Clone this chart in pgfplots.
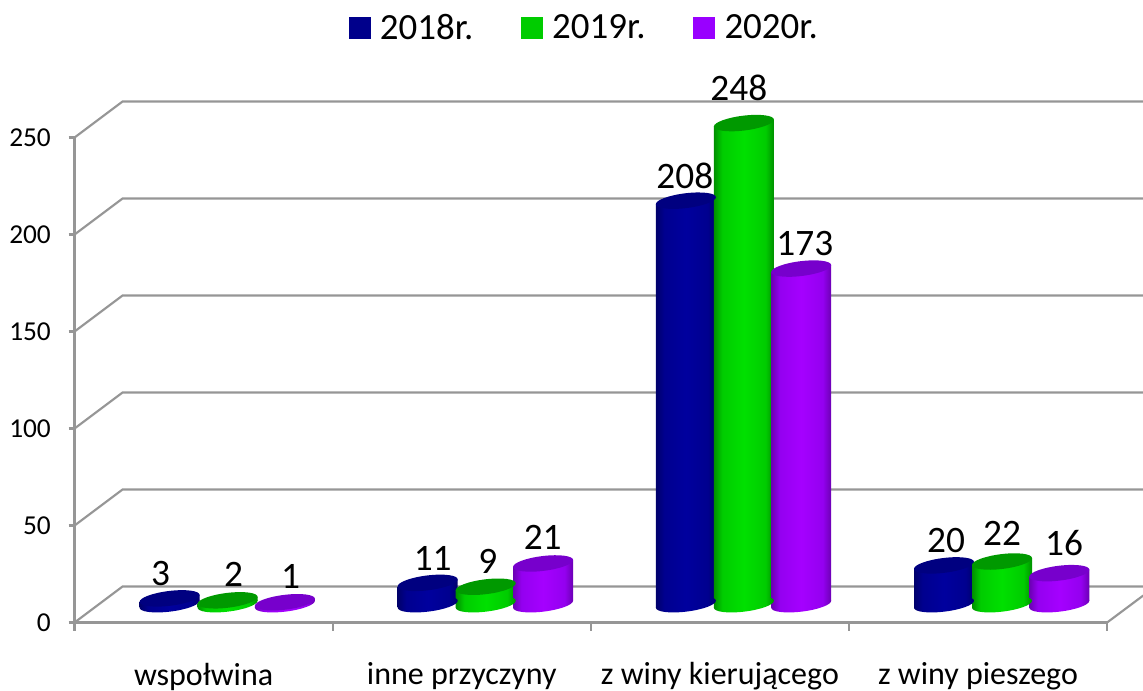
\documentclass[border=0pt]{standalone}
\usepackage{pgfplots}
\usepackage{fontspec}
\setmainfont{Carlito}
\pgfplotsset{compat=1.18}
\definecolor{gridc}{HTML}{969696}
\definecolor{aL}{HTML}{00008B}\definecolor{aE}{HTML}{00006B}\definecolor{aB}{HTML}{00008F}\definecolor{aM}{HTML}{00009E}\definecolor{aC}{HTML}{000080}
\definecolor{bL}{HTML}{00CC00}\definecolor{bE}{HTML}{009000}\definecolor{bB}{HTML}{00CC00}\definecolor{bM}{HTML}{00E000}\definecolor{bC}{HTML}{009900}
\definecolor{cL}{HTML}{9900FF}\definecolor{cE}{HTML}{6B00B3}\definecolor{cB}{HTML}{9400F0}\definecolor{cM}{HTML}{A500FF}\definecolor{cC}{HTML}{7700CC}
\newcommand\defmarks[1]{%
 \pgfdeclarehorizontalshading{cyl#1}{100bp}{color(0bp)=(#1E); color(25bp)=(#1E); color(32bp)=(#1B); color(50bp)=(#1M); color(68bp)=(#1B); color(75bp)=(#1E); color(100bp)=(#1E)}%
 \pgfdeclareplotmark{cap#1}{\pgfpathellipse{\pgfpointorigin}{\pgfqpoint{22.5pt}{2.6pt}}{\pgfqpoint{0pt}{5.6pt}}\pgfsetfillcolor{#1C}\pgfusepathqfill}%
 \pgfdeclareplotmark{bot#1}{\pgfpathellipse{\pgfpointorigin}{\pgfqpoint{22.5pt}{2.6pt}}{\pgfqpoint{0pt}{5.6pt}}\pgfshadepath{cyl#1}{0}\pgfusepath{discard}}%
}
\defmarks{a}\defmarks{b}\defmarks{c}
% one cylinder: x, value, series letter, shift to the right
\newcommand\cyl[4]{%
 \addplot[forget plot,only marks,mark=bot#3,xshift=#4,yshift=13.75pt] coordinates {(#1,0)};
 \addplot[forget plot,ybar,bar width=45pt,bar shift=0pt,draw=none,shade,shading=cyl#3,mark=none,xshift=#4,yshift=13.75pt,
   cm={1,0.1156,0,1,(0pt,{-0.1156*193.6*#1 pt})}] coordinates {(#1,#2)};
 \addplot[forget plot,only marks,mark=cap#3,xshift=#4,yshift=13.75pt] coordinates {(#1,#2)};
}
% one data label: x, value, offset right (px), offset up (px)
\newcommand\lbl[4]{%
 \addplot[forget plot,only marks,mark=none,
  nodes near coords={#2},
  every node near coord/.style={anchor=center,inner sep=0pt,font=\fontsize{28pt}{28pt}\selectfont,text=black,xshift={#3*0.75pt},yshift={#4*0.75pt}}]
  coordinates {(#1,#2)};
}
\begin{document}
\begin{tikzpicture}
\path[use as bounding box] (0,0) rectangle (857.25pt,517.5pt);
\begin{axis}[
 at={(55.9pt,50.6pt)},anchor=south west,
 scale only axis,width=774.4pt,height=363.75pt,
 xmin=0,xmax=4,ymin=0,ymax=250,clip=false,
 axis x line*=bottom,axis y line*=left,
 axis line style={gridc,line width=1.6pt,-},
 tick align=outside,tick style={gridc,line width=1.6pt},
 xtick={0.5,1.5,2.5,3.5},
 xticklabels={wspołwina,inne przyczyny,z winy kierującego,z winy pieszego},
 minor xtick={0,1,2,3,4},
 major x tick style={draw=none},
 minor tick length=6pt,
 major tick length=4.5pt,
 ytick={0,50,100,150,200,250},
 /pgf/number format/assume math mode=true,
 x tick label style={font=\fontsize{24pt}{24pt}\selectfont,anchor=center,inner sep=0pt,yshift=-36pt,text=black},
 y tick label style={font=\fontsize{20.5pt}{20.5pt}\selectfont,text=black,xshift=-9.75pt,yshift=-0.5pt},
 legend columns=3,
 legend cell align=left,
 legend style={at={(rel axis cs:0.494,1.2265)},anchor=center,draw=none,fill=none,
   font=\fontsize{27.7pt}{27.7pt}\selectfont,inner sep=0pt,
   /tikz/every odd column/.style={column sep=5.25pt},
   /tikz/every even column/.style={column sep=33.75pt}},
]
\addplot[forget plot,gridc,line width=1.6pt] coordinates {(0,0) (0.186,18.56) (4.14,18.56)};
\addplot[forget plot,gridc,line width=1.6pt] coordinates {(0,50) (0.186,68.56) (4.14,68.56)};
\addplot[forget plot,gridc,line width=1.6pt] coordinates {(0,100) (0.186,118.56) (4.14,118.56)};
\addplot[forget plot,gridc,line width=1.6pt] coordinates {(0,150) (0.186,168.56) (4.14,168.56)};
\addplot[forget plot,gridc,line width=1.6pt] coordinates {(0,200) (0.186,218.56) (4.14,218.56)};
\addplot[forget plot,gridc,line width=1.6pt] coordinates {(0,250) (0.186,268.56) (4.14,268.56)};
\addplot[forget plot,gridc,line width=1.6pt] coordinates {(4,0) (4.14,13.9)};
\cyl{0.5}{3}{a}{-25.5pt}\cyl{0.5}{2}{b}{18pt}\cyl{0.5}{1}{c}{61pt}
\cyl{1.5}{11}{a}{-25.5pt}\cyl{1.5}{9}{b}{18pt}\cyl{1.5}{21}{c}{61pt}
\cyl{2.5}{208}{a}{-25.5pt}\cyl{2.5}{248}{b}{18pt}\cyl{2.5}{173}{c}{61pt}
\cyl{3.5}{20}{a}{-25.5pt}\cyl{3.5}{22}{b}{18pt}\cyl{3.5}{16}{c}{61pt}
\lbl{0.5}{3}{-43}{43}\lbl{1.5}{11}{-29}{43}\lbl{2.5}{208}{-35}{43}\lbl{3.5}{20}{-32}{43}
\lbl{0.5}{2}{30}{44}\lbl{1.5}{9}{26}{44}\lbl{2.5}{248}{19}{54}\lbl{3.5}{22}{24}{46}
\lbl{0.5}{1}{87}{44}\lbl{1.5}{21}{81}{44}\lbl{2.5}{173}{85}{43}\lbl{3.5}{16}{86}{48}
\addlegendimage{legend image code/.code={\fill[aL] (0pt,-7.9pt) rectangle (15.8pt,7.9pt);}}
\addlegendentry{2018r.}
\addlegendimage{legend image code/.code={\fill[bL] (0pt,-7.9pt) rectangle (15.8pt,7.9pt);}}
\addlegendentry{2019r.}
\addlegendimage{legend image code/.code={\fill[cL] (0pt,-7.9pt) rectangle (15.8pt,7.9pt);}}
\addlegendentry{2020r.}
\end{axis}
\end{tikzpicture}
\end{document}
